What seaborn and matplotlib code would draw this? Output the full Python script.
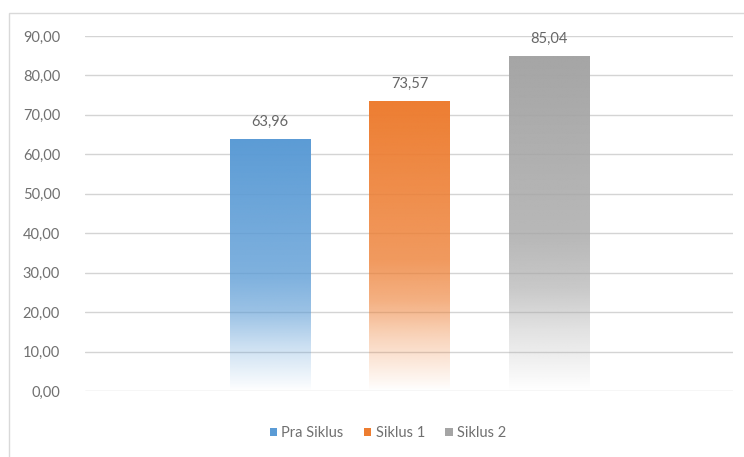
import numpy as np
import seaborn as sns
import matplotlib.pyplot as plt
from matplotlib.patches import Rectangle, Patch
from matplotlib.colors import to_rgb
from matplotlib.ticker import FuncFormatter, MultipleLocator

# data
categories = ['Pra Siklus', 'Siklus 1', 'Siklus 2']
scores = [63.96, 73.57, 85.04]
colors = ['#5B9BD5', '#ED7D31', '#A5A5A5']


def comma(x, pos=None):
    return '{:.2f}'.format(x).replace('.', ',')


def gradient(color, n=256):
    # top: full colour, fading to white toward the bottom (row 0 = bottom)
    t = np.linspace(0, 1, n)  # 0 bottom -> 1 top
    alpha = np.interp(t, [0.0, 0.03, 0.18, 0.31, 0.45, 1.0],
                      [0.0, 0.06, 0.32, 0.61, 0.78, 1.0])
    rgba = np.zeros((n, 1, 4))
    rgba[..., :3] = to_rgb(color)
    rgba[..., 3] = alpha[:, None]
    return rgba


sns.set_style('white')
plt.rcParams['font.family'] = ['Lato', 'DejaVu Sans']

fig = plt.figure(figsize=(7.44, 4.57), dpi=100)
ax = fig.add_axes([85 / 744, 1 - 391 / 457, 648 / 744, 355 / 457])

sns.barplot(x=categories, y=scores, hue=categories, palette=colors,
            width=0.58, legend=False, ax=ax)

# gradient fill clipped to each bar
for patch, color in zip(ax.patches, colors):
    x0, y0 = patch.get_x(), patch.get_y()
    x1, y1 = x0 + patch.get_width(), y0 + patch.get_height()
    im = ax.imshow(gradient(color), extent=[x0, x1, y0, y1], origin='lower',
                   aspect='auto', interpolation='bilinear', zorder=2)
    im.set_clip_path(patch)
    patch.set_facecolor('none')
    patch.set_edgecolor('none')

for container, v in zip(ax.containers, scores):
    ax.bar_label(container, labels=[comma(v)], padding=7,
                 fontsize=10.5, color='#666666')

ax.set_xlim(-1.326, 3.319)
ax.set_ylim(0, 90)
ax.yaxis.set_major_locator(MultipleLocator(10))
ax.yaxis.set_major_formatter(FuncFormatter(comma))
ax.set_xticks([])
ax.tick_params(axis='y', length=0, pad=18, labelsize=10.5, labelcolor='#707070')
ax.grid(visible=True, axis='y', color='#d4d4d4', linewidth=1)
ax.set_axisbelow(True)
for s in ax.spines.values():
    s.set_visible(False)
ax.set_xlabel('')
ax.set_ylabel('')

handles = [Patch(facecolor=c, edgecolor='none') for c in colors]
fig.legend(handles, categories, loc='center', bbox_to_anchor=(388 / 744, 1 - 433 / 457),
           ncol=3, frameon=False, handlelength=0.5, handleheight=0.5,
           handletextpad=0.3, columnspacing=1.4, fontsize=10.5,
           labelcolor='#707070')

# chart area border (right and bottom edges fall outside the image)
fig.patches.append(Rectangle((9 / 744, -0.01), 1.0, 1 - 13 / 457 + 0.01,
                             transform=fig.transFigure, fill=False,
                             edgecolor='#d9d9d9', linewidth=1))

plt.savefig('out.png', dpi=100)
